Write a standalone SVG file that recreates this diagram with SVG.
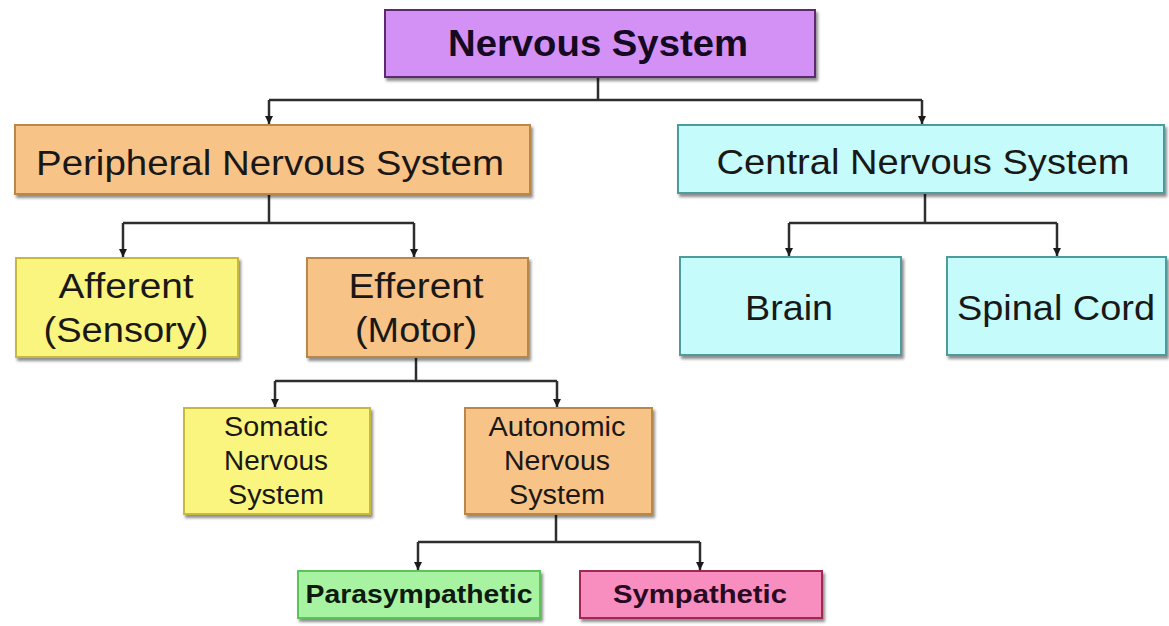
<svg xmlns="http://www.w3.org/2000/svg" width="1169" height="626" viewBox="0 0 1169 626">
<defs>
<filter id="sh" x="-5%" y="-10%" width="115%" height="130%">
<feDropShadow dx="2" dy="3" stdDeviation="1.5" flood-color="#000" flood-opacity="0.45"/>
</filter>
<marker id="ah" markerUnits="userSpaceOnUse" markerWidth="9" markerHeight="9" refX="8" refY="4.5" orient="auto">
<path d="M0,0.5 L8,4.5 L0,8.5 z" fill="#1a1a1a"/>
</marker>
</defs>
<style>
.box{stroke-width:2;filter:url(#sh)}
.purple{fill:#d391f6;stroke:#5b2c6e}
.orange{fill:#f8c386;stroke:#b98846}
.yellow{fill:#faf57e;stroke:#c7b940}
.cyan{fill:#c6fbfb;stroke:#4d9c9c}
.green{fill:#a8f3a2;stroke:#5cc25a}
.pink{fill:#f88dbf;stroke:#a0294f}
text{font-family:"Liberation Sans",Arial,sans-serif;fill:#1a1816;text-anchor:middle}
.big{font-size:35px}
.mid{font-size:27px}
.bold{font-weight:bold}
.con{fill:none;stroke:#2e2e2e;stroke-width:2.5}
.arr{fill:none;stroke:#2e2e2e;stroke-width:2.5;marker-end:url(#ah)}
</style>
<rect width="1169" height="626" fill="#ffffff"/>

<g id="connectors">
<path class="con" d="M598,77 V100 M269,100 H922"/>
<path class="arr" d="M269,100 V124"/>
<path class="arr" d="M922,100 V124"/>
<path class="con" d="M269,194 V223 M123,223 H414"/>
<path class="arr" d="M123,223 V257"/>
<path class="arr" d="M414,223 V257"/>
<path class="con" d="M925,193 V223 M789,223 H1057"/>
<path class="arr" d="M789,223 V256"/>
<path class="arr" d="M1057,223 V256"/>
<path class="con" d="M416,357 V381 M275,381 H557"/>
<path class="arr" d="M275,381 V407"/>
<path class="arr" d="M557,381 V407"/>
<path class="con" d="M556,514 V542 M418,542 H700"/>
<path class="arr" d="M418,542 V570"/>
<path class="arr" d="M700,542 V570"/>
</g>

<g id="nervous-system">
<rect class="box purple" x="385" y="10" width="430" height="67"/>
<text class="bold" x="598" y="56" font-size="36" textLength="300" lengthAdjust="spacingAndGlyphs" style="fill:#150a22">Nervous System</text>
</g>

<g id="peripheral">
<rect class="box orange" x="15" y="125" width="515" height="69"/>
<text class="big" x="270" y="175" textLength="468" lengthAdjust="spacingAndGlyphs">Peripheral Nervous System</text>
</g>

<g id="central">
<rect class="box cyan" x="678" y="125" width="486" height="68"/>
<text class="big" x="923" y="174" textLength="413" lengthAdjust="spacingAndGlyphs">Central Nervous System</text>
</g>

<g id="afferent">
<rect class="box yellow" x="16" y="258" width="222" height="99"/>
<text class="big" x="126" y="298" textLength="135" lengthAdjust="spacingAndGlyphs">Afferent</text>
<text class="big" x="126" y="342" textLength="165" lengthAdjust="spacingAndGlyphs">(Sensory)</text>
</g>

<g id="efferent">
<rect class="box orange" x="307" y="258" width="221" height="99"/>
<text class="big" x="416" y="298" textLength="135" lengthAdjust="spacingAndGlyphs">Efferent</text>
<text class="big" x="416" y="342" textLength="122" lengthAdjust="spacingAndGlyphs">(Motor)</text>
</g>

<g id="brain">
<rect class="box cyan" x="680" y="257" width="221" height="98"/>
<text class="big" x="789" y="320" textLength="88" lengthAdjust="spacingAndGlyphs">Brain</text>
</g>

<g id="spinal-cord">
<rect class="box cyan" x="947" y="257" width="219" height="98"/>
<text class="big" x="1056" y="320" textLength="198" lengthAdjust="spacingAndGlyphs">Spinal Cord</text>
</g>

<g id="somatic">
<rect class="box yellow" x="184" y="408" width="186" height="106"/>
<text class="mid" x="276" y="436" textLength="104" lengthAdjust="spacingAndGlyphs">Somatic</text>
<text class="mid" x="276" y="470" textLength="104" lengthAdjust="spacingAndGlyphs">Nervous</text>
<text class="mid" x="276" y="504" textLength="96" lengthAdjust="spacingAndGlyphs">System</text>
</g>

<g id="autonomic">
<rect class="box orange" x="465" y="408" width="187" height="106"/>
<text class="mid" x="557" y="436" textLength="137" lengthAdjust="spacingAndGlyphs">Autonomic</text>
<text class="mid" x="557" y="470" textLength="106" lengthAdjust="spacingAndGlyphs">Nervous</text>
<text class="mid" x="557" y="504" textLength="96" lengthAdjust="spacingAndGlyphs">System</text>
</g>

<g id="parasympathetic">
<rect class="box green" x="298" y="571" width="242" height="47"/>
<text class="bold" x="419" y="603" font-size="25" textLength="227" lengthAdjust="spacingAndGlyphs" style="fill:#0e1a0e">Parasympathetic</text>
</g>

<g id="sympathetic">
<rect class="box pink" x="580" y="571" width="242" height="47"/>
<text class="bold" x="700" y="603" font-size="25" textLength="174" lengthAdjust="spacingAndGlyphs" style="fill:#2a0a22">Sympathetic</text>
</g>
</svg>
